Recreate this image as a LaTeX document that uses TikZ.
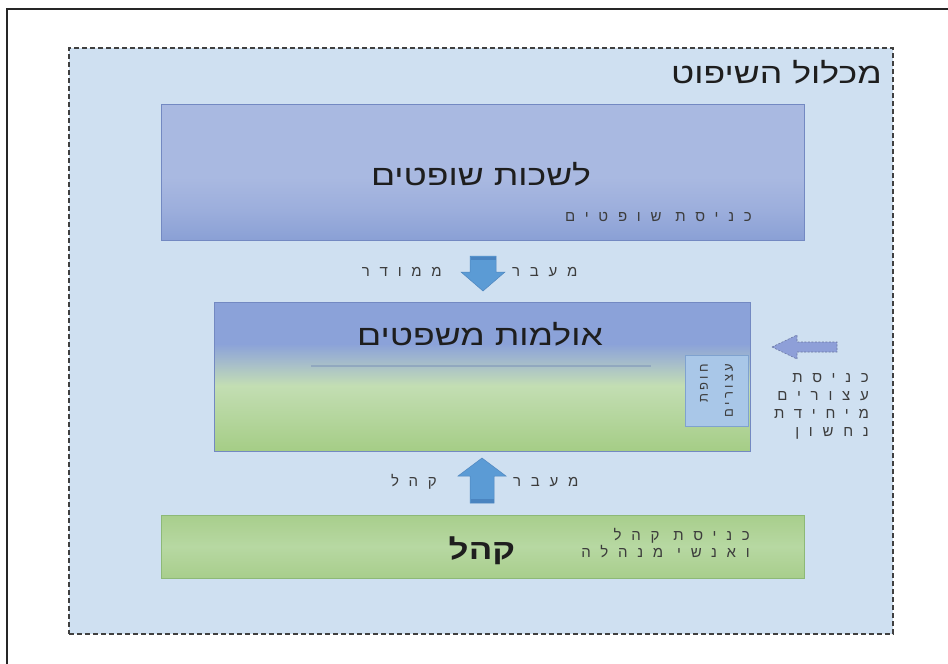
\documentclass[tikz,border=0pt]{standalone}
\usepackage{fontspec}
\setmainfont{Liberation Sans}
\newfontfamily\hebfont[Script=Hebrew]{Liberation Sans}
\newfontfamily\hebwide[Script=Hebrew,FakeStretch=1.25]{Liberation Sans}
\newfontfamily\hebspaced[Script=Hebrew,LetterSpace=65]{Liberation Sans}
\newfontfamily\hebcell[Script=Hebrew,LetterSpace=25]{Liberation Sans}
\TeXXeTstate=1
\usetikzlibrary{positioning, calc}
\newcommand{\heb}[1]{\beginR #1\endR}

\definecolor{regionfill}{HTML}{CFE0F1}
\definecolor{judgetop}{HTML}{A9B9E1}
\definecolor{judgebot}{HTML}{8AA0D5}
\definecolor{judgemid}{HTML}{9CAEDC}
\definecolor{boxline}{HTML}{7389C2}
\definecolor{courtblue}{HTML}{8BA2D9}
\definecolor{courtpale}{HTML}{C3DEB3}
\definecolor{courtmix}{HTML}{A8BFC9}
\definecolor{courtgreen}{HTML}{A5CD86}
\definecolor{publicgreen}{HTML}{A8CE8C}
\definecolor{publicpale}{HTML}{B7D8A2}
\definecolor{greenline}{HTML}{8DB977}
\definecolor{cellfill}{HTML}{A9C7E8}
\definecolor{cellline}{HTML}{7FA2CF}
\definecolor{arrowblue}{HTML}{5B9BD5}
\definecolor{arrowdark}{HTML}{4A84C0}
\definecolor{arrowline}{HTML}{4F86BE}
\definecolor{dasharrow}{HTML}{8E9FD8}
\definecolor{txt}{HTML}{1E1E1E}
\definecolor{softtxt}{HTML}{3C3C3C}

\pgfdeclareverticalshading{judgeshade}{100bp}{color(0bp)=(judgebot); color(25bp)=(judgebot); color(36bp)=(judgemid); color(48bp)=(judgetop); color(100bp)=(judgetop)}
\pgfdeclareverticalshading{courtshade}{100bp}{color(0bp)=(courtgreen); color(25bp)=(courtgreen); color(47bp)=(courtpale); color(54bp)=(courtmix); color(61bp)=(courtblue); color(100bp)=(courtblue)}

\begin{document}
\begin{tikzpicture}[x=1pt, y=-1pt,
  regionbox/.style = {draw=black!75, dash pattern=on 5pt off 3pt, line width=1.2pt, fill=regionfill, inner sep=0pt},
  roombox/.style = {draw=boxline, line width=0.8pt, inner sep=0pt},
  cellbox/.style = {draw=cellline, fill=cellfill, line width=0.6pt, inner sep=0pt},
  bigtitle/.style = {font=\hebwide\fontsize{28.5}{32}\selectfont, text=txt, inner sep=0pt},
  spaced/.style = {font=\hebspaced\fontsize{15}{18}\selectfont, text=softtxt, inner sep=0pt},
  passfill/.style = {fill=arrowblue, draw=arrowline, line width=0.5pt, line join=miter}]
  \useasboundingbox (0,0) rectangle (948,664);
  % outer frame
  \draw[line width=1.5pt, black!85] (7,664) -- (7,9) -- (948,9);

  % the complex
  \node[regionbox, minimum width=824, minimum height=586] (complex) at (481,341) {};
  \node[bigtitle, anchor=east] (complexname) at (882,72) {\heb{מכלול השיפוט}};

  % judges' chambers
  \node[roombox, shade, shading=judgeshade, minimum width=643, minimum height=136] (judges) at (482.5,172) {};
  \node[bigtitle] (judgesname) at (481,174) {\heb{לשכות שופטים}};
  \node[spaced, anchor=east] (judgesin) at (752,217) {\heb{כניסת שופטים}};

  % courtrooms
  \node[roombox, shade, shading=courtshade, minimum width=536, minimum height=149] (courts) at (482,376.5) {};
  \node[bigtitle] (courtsname) at (480,334) {\heb{אולמות משפטים}};
  \draw[line width=1.2pt, boxline!70!courtpale, opacity=0.8] (311,366) -- (651,366);
  \node[cellbox, rotate=90, minimum width=71, minimum height=63, align=right, inner xsep=6pt,
    font=\hebcell\fontsize{13}{25}\selectfont, text=softtxt] (cell) at (716.5,390.5)
    {\heb{חופת}\\\heb{עצורים}};

  % public
  \node[roombox, draw=greenline, top color=publicgreen, bottom color=publicgreen, middle color=publicpale,
    minimum width=643, minimum height=63] (public) at (482.5,546.5) {};
  \node[bigtitle, font=\hebwide\bfseries\fontsize{28}{32}\selectfont] (publicname) at (482,551) {\heb{קהל}};
  \node[spaced, anchor=east, align=right, font=\hebspaced\fontsize{15}{17}\selectfont] (publicin) at (750,543)
    {\heb{כניסת קהל}\\\heb{ואנשי מנהלה}};

  % passages
  \coordinate (downtip) at (483,291);
  \draw[passfill] (downtip) -- ++(-22,-19) -- ++(9,0) -- ++(0,-16) -- ++(26,0) -- ++(0,16) -- ++(9,0) -- cycle;
  \fill[arrowdark] (470.5,256.5) rectangle (495.5,260);
  \node[spaced, anchor=west] (passdownR) at (512,272) {\heb{מעבר}};
  \node[spaced, anchor=east] (passdownL) at (442,272) {\heb{ממודר}};

  \coordinate (uptip) at (482,458);
  \draw[passfill] (uptip) -- ++(24,18) -- ++(-12,0) -- ++(0,27) -- ++(-24,0) -- ++(0,-27) -- ++(-12,0) -- cycle;
  \fill[arrowdark] (470.5,499) rectangle (493.5,502.5);
  \node[spaced, anchor=west] (passupR) at (513,482) {\heb{מעבר}};
  \node[spaced, anchor=east] (passupL) at (437,482) {\heb{קהל}};

  % detainees entrance
  \coordinate (dettip) at (772,347);
  \draw[fill=dasharrow, draw=dasharrow!75!black, dash pattern=on 2pt off 1.5pt, line width=0.6pt]
    (dettip) -- ++(25,-12) -- ++(0,7) -- ++(40,0) -- ++(0,10) -- ++(-40,0) -- ++(0,7) -- cycle;
  \node[spaced, anchor=north east, align=right] (detnote) at (869,373)
    {\heb{כניסת}\\\heb{עצורים}\\\heb{מיחידת}\\\heb{נחשון}};
\end{tikzpicture}
\end{document}
